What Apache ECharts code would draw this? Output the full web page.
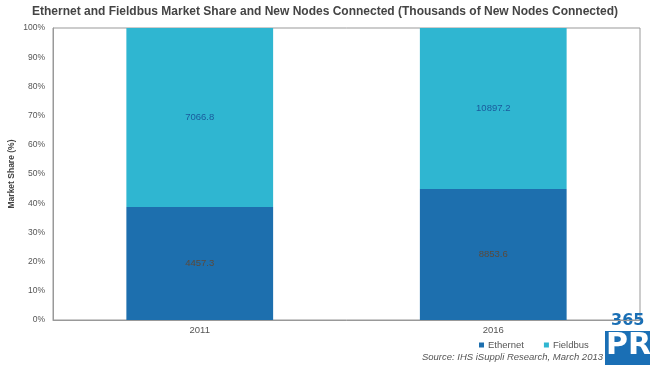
<!DOCTYPE html>
<html>
<head>
<meta charset="utf-8">
<style>html,body{margin:0;padding:0;background:#fff;}#c{width:650px;height:365px;}</style>
<script src="https://cdn.jsdelivr.net/npm/echarts@6/dist/echarts.min.js"></script>
</head>
<body>
<div id="c"></div>
<script>
const categories = ['2011', '2016'];
const ethernetNodes = [4457.3, 8853.6];
const fieldbusNodes = [7066.8, 10897.2];
const yTicks = [0, 10, 20, 30, 40, 50, 60, 70, 80, 90, 100];

const share = (a, b) => a.map((v, i) => v / (v + b[i]) * 100);
const ethShare = share(ethernetNodes, fieldbusNodes);
const fbShare = share(fieldbusNodes, ethernetNodes);

const F = 'Liberation Sans, Arial';
const chart = echarts.init(document.getElementById('c'));
chart.setOption({
  animation: false,
  backgroundColor: '#fff',
  title: {
    text: 'Ethernet and Fieldbus Market Share and New Nodes Connected (Thousands of New Nodes Connected)',
    left: 'center', top: 1,
    textStyle: { fontFamily: F, fontSize: 12, fontWeight: 'bold', color: '#444' }
  },
  legend: {
    data: ['Ethernet', 'Fieldbus'],
    left: 474, top: 335,
    itemWidth: 5, itemHeight: 5, itemGap: 20,
    icon: 'rect',
    textStyle: { fontFamily: F, fontSize: 9.5, color: '#555', padding: [0, 0, 0, -1] }
  },
  grid: { left: 53, right: 10, top: 28, bottom: 45, show: true, borderColor: '#999', borderWidth: 1, outerBoundsMode: 'none', containLabel: false },
  xAxis: {
    type: 'category', data: categories,
    axisLine: { show: true, lineStyle: { color: '#999' } },
    axisTick: { show: false },
    axisLabel: { fontFamily: F, fontSize: 9.5, color: '#555', margin: 5 }
  },
  yAxis: {
    type: 'value', min: 0, max: 100, interval: 10,
    name: 'Market Share (%)', nameLocation: 'middle', nameGap: 37, nameRotate: 90, nameMoveOverlap: false,
    nameTextStyle: { fontFamily: F, fontSize: 8.5, fontWeight: 'bold', color: '#444' },
    axisLine: { show: true, lineStyle: { color: '#999' } },
    axisTick: { show: false },
    splitLine: { show: false },
    axisLabel: {
      fontFamily: F, fontSize: 8.5, color: '#555', margin: 8,
      formatter: v => yTicks.includes(v) ? v + '%' : ''
    }
  },
  series: [
    {
      name: 'Ethernet', type: 'bar', stack: 's', barWidth: '50%',
      data: ethShare,
      itemStyle: { color: '#1d6fae' },
      label: { show: true, position: 'inside', fontFamily: F, fontSize: 9.5, color: '#5a4a3c',
        formatter: p => ethernetNodes[p.dataIndex].toFixed(1) }
    },
    {
      name: 'Fieldbus', type: 'bar', stack: 's', barWidth: '50%',
      data: fbShare,
      itemStyle: { color: '#2fb6d1' },
      label: { show: true, position: 'inside', fontFamily: F, fontSize: 9.5, color: '#1a5a9c',
        formatter: p => fieldbusNodes[p.dataIndex].toFixed(1) }
    }
  ],
  graphic: [
    { type: 'text', right: 47, top: 352,
      style: { text: 'Source: IHS iSuppli Research, March 2013', fontFamily: F, fontSize: 9.5, fontStyle: 'italic', fill: '#555' } },
    { type: 'rect', shape: { x: 605, y: 331, width: 45, height: 34 }, style: { fill: '#1a6fb5' } },
    { type: 'text', left: 606, top: 331, style: { text: 'PR', fontFamily: 'DejaVu Sans', fontSize: 30, fontWeight: 'bold', fill: '#fff' } },
    { type: 'text', left: 611, top: 313, style: { text: '365', fontFamily: 'DejaVu Sans', fontSize: 16, fontWeight: 'bold', fill: '#1a6fb5' } }
  ]
});
</script>
</body>
</html>
